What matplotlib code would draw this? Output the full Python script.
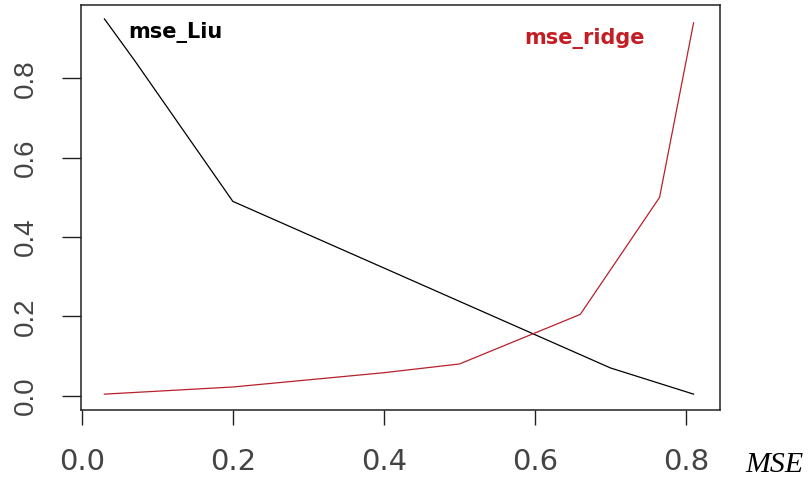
import matplotlib
matplotlib.use("Agg")
import matplotlib.pyplot as plt

# values
liu_x = [0.03, 0.07, 0.20, 0.70, 0.81]
liu_y = [0.95, 0.845, 0.49, 0.07, 0.004]

ridge_x = [0.03, 0.20, 0.30, 0.40, 0.50, 0.66, 0.765, 0.81]
ridge_y = [0.004, 0.022, 0.04, 0.058, 0.08, 0.205, 0.50, 0.94]

x_ticks = [0.0, 0.2, 0.4, 0.6, 0.8]
y_ticks = [0.0, 0.2, 0.4, 0.6, 0.8]
tick_labels = ["0.0", "0.2", "0.4", "0.6", "0.8"]

fig = plt.figure(figsize=(8.09, 4.82), dpi=100)
ax = fig.add_axes([81 / 809, 1 - 410 / 482, (720 - 81) / 809, (410 - 5) / 482])

ax.plot(liu_x, liu_y, color="black", lw=0.9)
ax.plot(ridge_x, ridge_y, color="#b8202c", lw=0.9)

ax.text(0.061, 0.903, "mse_Liu", color="black", fontsize=15,
        fontweight="bold", family="DejaVu Sans")
ax.text(0.586, 0.886, "mse_ridge", color="#c41e24", fontsize=15,
        fontweight="bold", family="DejaVu Sans")

ax.set_xlim(-0.001, 0.845)
ax.set_ylim(-0.036, 0.985)

ax.set_xticks(x_ticks)
ax.set_xticklabels(tick_labels, family="DejaVu Sans", fontsize=21, color="#444444")
ax.set_yticks(y_ticks)
ax.set_yticklabels(tick_labels, family="Liberation Sans", fontsize=20,
                   color="#444444", rotation=90, va="center")

ax.tick_params(axis="x", direction="out", length=10.5, width=1.0, pad=17, color="#222222")
ax.tick_params(axis="y", direction="out", length=13.5, width=1.0, pad=17, color="#222222")

for s in ax.spines.values():
    s.set_linewidth(1.1)
    s.set_color("#222222")

fig.text(745 / 809, 1 - 471.5 / 482, "MSE", family="Liberation Serif",
         style="italic", fontsize=21.5, color="black", ha="left", va="baseline")

fig.savefig("out.png", dpi=100)
